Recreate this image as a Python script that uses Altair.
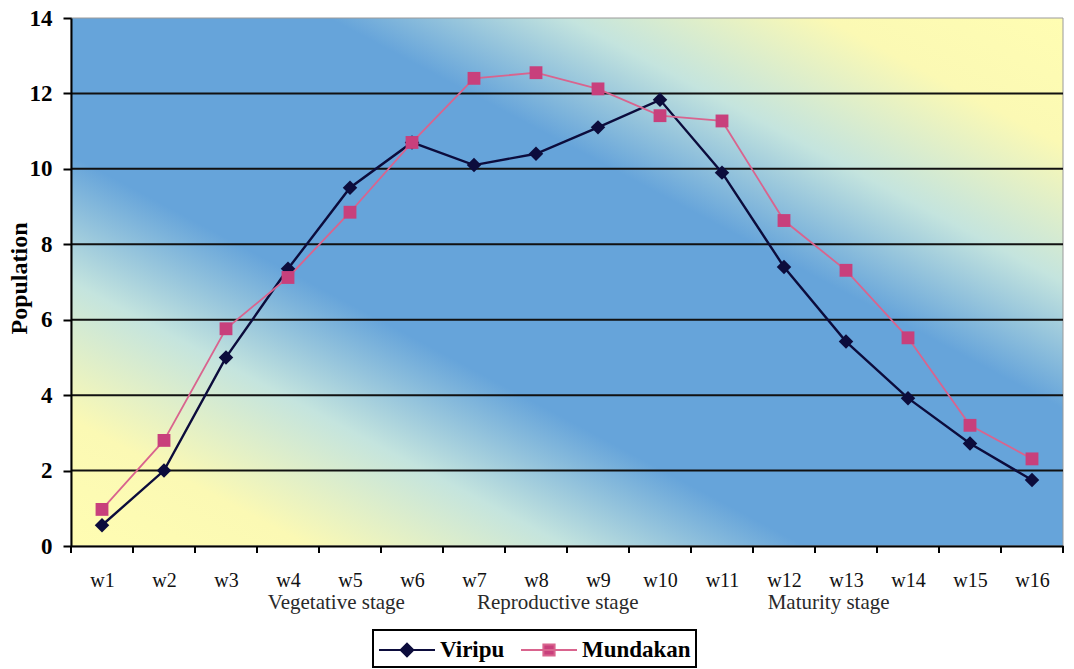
import altair as alt
import pandas as pd

# Weekly population counts for the two seasons
weeks = ["w1", "w2", "w3", "w4", "w5", "w6", "w7", "w8",
         "w9", "w10", "w11", "w12", "w13", "w14", "w15", "w16"]
viripu = [0.55, 2.0, 5.0, 7.35, 9.5, 10.7, 10.1, 10.4,
          11.1, 11.83, 9.9, 7.4, 5.42, 3.92, 2.72, 1.75]
mundakan = [0.97, 2.8, 5.76, 7.12, 8.85, 10.7, 12.4, 12.55,
            12.12, 11.41, 11.27, 8.63, 7.31, 5.52, 3.2, 2.31]
series = ["Viripu", "Mundakan"]

# Crop stage captions and where they sit along the week axis
stages = ["Vegetative stage", "Reproductive stage", "Maturity stage"]
stage_pos = [4.78, 8.35, 12.72]

y_ticks = [0, 2, 4, 6, 8, 10, 12, 14]
grid_lines = [2, 4, 6, 8, 10, 12]

W, H = 992, 528
FONT = "Liberation Serif"
NAVY = "#0c0c3c"
PINK_LINE = "#d9648e"
PINK_MARK = "#c8407c"

n = len(weeks)
week_idx = list(range(1, n + 1))
df = pd.DataFrame({"week": week_idx * 2,
                   "series": [series[0]] * n + [series[1]] * n,
                   "value": viripu + mundakan})

bg_df = pd.DataFrame({"x0": [0.5], "x1": [n + 0.5],
                      "y0": [y_ticks[0]], "y1": [y_ticks[-1]]})
grid_df = pd.DataFrame({"v": grid_lines})
stage_df = pd.DataFrame({"name": stages, "pos": stage_pos})
# category boundaries, where the x ticks go
bounds_df = pd.DataFrame({"b": [i + 0.5 for i in range(n + 1)]})

x_scale = alt.Scale(domain=[0.5, n + 0.5], nice=False, zero=False)
y_scale = alt.Scale(domain=[y_ticks[0], y_ticks[-1]], nice=False)

x_axis = alt.Axis(
    values=week_idx, labelExpr="'w' + datum.value", title=None, grid=False,
    ticks=False, labelFlush=False,
    labelFont=FONT, labelFontSize=20, labelColor="#111111", labelPadding=24,
    domainColor="black", domainWidth=2, zindex=1,
)
y_axis = alt.Axis(
    values=y_ticks, title="Population", grid=False,
    labelFont=FONT, labelFontSize=23, labelFontWeight="bold", labelColor="black",
    labelPadding=11, tickSize=8, tickWidth=2, tickColor="black",
    domainColor="black", domainWidth=2, zindex=1,
    titleFont=FONT, titleFontSize=24, titleFontWeight="bold", titleColor="black",
    titleX=-40, titleY=260,
)

gradient = {
    "gradient": "linear", "x1": 0, "y1": 1, "x2": 1, "y2": 0,
    "stops": [
        {"offset": 0.0, "color": "#fffdb2"},
        {"offset": 0.12, "color": "#fbf9b4"},
        {"offset": 0.25, "color": "#c4e4de"},
        {"offset": 0.37, "color": "#66a4da"},
        {"offset": 0.63, "color": "#66a4da"},
        {"offset": 0.75, "color": "#c4e4de"},
        {"offset": 0.88, "color": "#fbf9b4"},
        {"offset": 1.0, "color": "#fffdb2"},
    ],
}

background = alt.Chart(bg_df).mark_rect(
    fill=gradient, stroke="#9a9a9a", strokeWidth=1
).encode(
    x=alt.X("x0:Q", scale=x_scale, axis=x_axis),
    x2="x1:Q",
    y=alt.Y("y0:Q", scale=y_scale, axis=y_axis),
    y2="y1:Q",
)

grid = alt.Chart(grid_df).mark_rule(color="#111111", strokeWidth=2).encode(
    y=alt.Y("v:Q", scale=y_scale)
)

ticks = alt.Chart(bounds_df).mark_rule(color="black", strokeWidth=2).encode(
    x=alt.X("b:Q", scale=x_scale),
    y=alt.value(H),
    y2=alt.value(H + 7),
)


def series_layers(name, line_color, line_width, shape, size, mark_color):
    base = alt.Chart(df).transform_filter(alt.datum.series == name).encode(
        x=alt.X("week:Q", scale=x_scale),
        y=alt.Y("value:Q", scale=y_scale),
    )
    line = base.mark_line(color=line_color, strokeWidth=line_width)
    marks = base.mark_point(filled=True, opacity=1, strokeWidth=0, shape=shape,
                            size=size, fill=mark_color)
    return line, marks


v_line, v_marks = series_layers(series[0], NAVY, 2.4, "diamond", 210, NAVY)
m_line, m_marks = series_layers(series[1], PINK_LINE, 1.8, "square", 165, PINK_MARK)

# legend symbols: a line stroke with the series marker in its middle
legend_paths = [
    "M-1,0L3,0M1,-0.45L1.45,0L1,0.45L0.55,0Z",
    "M-1,0L3,0M0.6,-0.4L1.4,-0.4L1.4,0.4L0.6,0.4Z",
]
legend = alt.Legend(
    title=None, orient="none", legendX=302, legendY=612, direction="horizontal",
    fillColor="white", strokeColor="black", padding=5,
    labelFont=FONT, labelFontSize=23, labelFontWeight="bold", labelColor="black",
    labelOffset=32, columnPadding=12, symbolSize=784, symbolStrokeWidth=2,
    symbolOpacity=1,
)
legend_layer = alt.Chart(df).mark_point(filled=True, opacity=0).encode(
    x=alt.X("week:Q", scale=x_scale),
    y=alt.Y("value:Q", scale=y_scale),
    fill=alt.Fill("series:N", scale=alt.Scale(domain=series, range=[NAVY, PINK_MARK]),
                  legend=legend),
    stroke=alt.Stroke("series:N", scale=alt.Scale(domain=series, range=[NAVY, PINK_LINE]),
                      legend=legend),
    shape=alt.Shape("series:N", scale=alt.Scale(domain=series, range=legend_paths),
                    legend=legend),
)

stage_text = alt.Chart(stage_df).mark_text(
    font=FONT, fontSize=21, color="#2a2a2a", baseline="alphabetic", align="center"
).encode(
    x=alt.X("pos:Q", scale=x_scale),
    y=alt.value(H + 63),
    text="name:N",
)

chart = alt.layer(background, grid, v_line, m_line, v_marks, m_marks, legend_layer,
                  ticks, stage_text).properties(
    width=W, height=H,
    autosize=alt.AutoSizeParams(type="none"),
    padding={"left": 71, "top": 18, "right": 11, "bottom": 123},
).configure_view(stroke=None).configure_legend(strokeWidth=2)

chart.save("out.html", embed_options={"renderer": "svg", "actions": False})
